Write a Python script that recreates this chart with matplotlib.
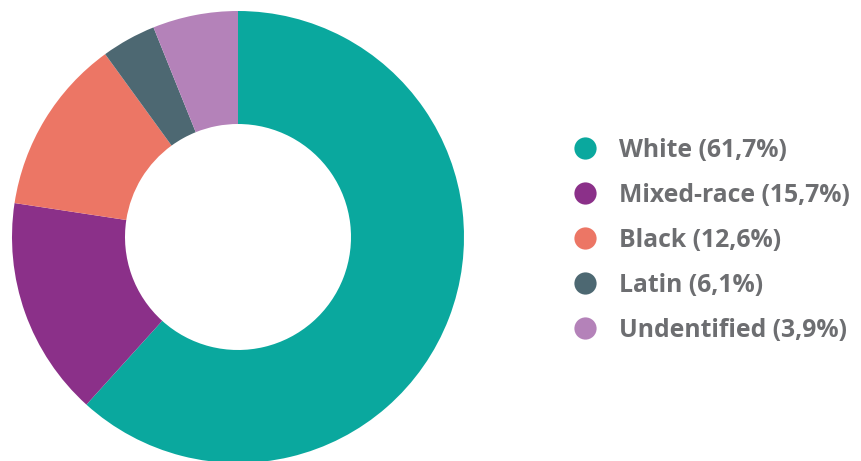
import matplotlib.pyplot as plt

labels = ['White (61,7%)', 'Mixed-race (15,7%)', 'Black (12,6%)', 'Latin (6,1%)', 'Undentified (3,9%)']
legend_colors = ['#0aa89e', '#8b3089', '#ec7665', '#4d6872', '#b482b9']

# slices as they appear in the ring, clockwise from the top
ring_values = [61.7, 15.7, 12.6, 3.9, 6.1]
ring_colors = ['#0aa89e', '#8b3089', '#ec7665', '#4d6872', '#b482b9']

W, H = 861, 461
fig = plt.figure(figsize=(W / 100, H / 100), dpi=100)

cx, cy, r = 238, 237, 226
ax = fig.add_axes([(cx - r) / W, (H - cy - r) / H, 2 * r / W, 2 * r / H])
ax.pie(ring_values, colors=ring_colors, startangle=90, counterclock=False,
       wedgeprops=dict(width=0.5, edgecolor='none'), radius=1)
ax.set_xlim(-1, 1)
ax.set_ylim(-1, 1)
ax.set_aspect('equal')
ax.axis('off')

lg = fig.add_axes([0, 0, 1, 1])
lg.set_xlim(0, W)
lg.set_ylim(H, 0)
lg.axis('off')
for i, (lab, col) in enumerate(zip(labels, legend_colors)):
    y = 148 + i * 45
    lg.plot(585, y, 'o', ms=16, color=col, mec='none')
    lg.text(619, y + 2, lab, fontsize=17.8, fontweight='bold', color='#6d6e71',
            family='Open Sans', va='center', ha='left')

fig.savefig('out.png', dpi=100)
